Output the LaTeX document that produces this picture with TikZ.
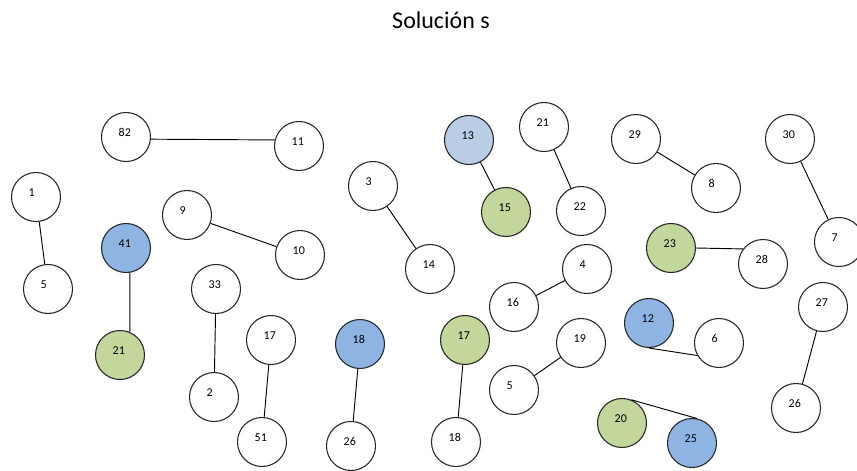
\documentclass[tikz,border=0pt]{standalone}
\usepackage{fontspec}
\setmainfont{Carlito}
\usetikzlibrary{positioning}
\definecolor{bluefill}{HTML}{8EB4E3}
\definecolor{palefill}{HTML}{B9CDE5}
\definecolor{greenfill}{HTML}{C3D69B}
\definecolor{rim}{HTML}{262626}

\begin{document}
\begin{tikzpicture}[x=0.75pt,y=-0.75pt,
  vtx/.style={circle,draw=rim,line width=0.8pt,fill=white,minimum size=36.75pt,inner sep=0pt,
    font=\fontsize{9}{10}\selectfont,text width=11pt,align=left,text height=6pt,text depth=7.1pt},
  bluev/.style={fill=bluefill},
  palev/.style={fill=palefill},
  greenv/.style={fill=greenfill},
  edge/.style={draw=black,line width=0.7pt}]
  \useasboundingbox (0,0) rectangle (857,471);

  % title
  \node[font=\fontsize{18}{20}\selectfont] (title) at (441,20) {Solución s};

  % left part
  \node[vtx] (n82) at (126,137) {82};
  \node[vtx] (n11) at (299,146) {11};
  \node[vtx] (n1) at (36,197) {1};
  \node[vtx] (n5a) at (48,289) {5};
  \node[vtx,bluev] (n41) at (126,248) {41};
  \node[vtx,greenv] (n21a) at (120,355) {21};
  \node[vtx] (n9) at (187,215) {9};
  \node[vtx] (n10) at (300,255) {10};
  \node[vtx] (n33) at (216,289) {33};
  \node[vtx] (n2) at (214,397) {2};
  \node[vtx] (n17a) at (271,340) {17};
  \node[vtx] (n51) at (262,442) {51};
  \node[vtx,bluev] (n18a) at (360,344) {18};
  \node[vtx] (n26a) at (351,446) {26};
  \node[vtx] (n3) at (373,186) {3};
  \node[vtx] (n14) at (430,269) {14};

  % middle part
  \node[vtx,palev] (n13) at (469,140) {13};
  \node[vtx,greenv] (n15) at (506,212) {15};
  \node[vtx] (n21b) at (544,127) {21};
  \node[vtx] (n22) at (581,211) {22};
  \node[vtx] (n4) at (587,269) {4};
  \node[vtx] (n16) at (514,307) {16};
  \node[vtx,greenv] (n17b) at (465,340) {17};
  \node[vtx] (n18b) at (456,442) {18};
  \node[vtx] (n19) at (581,343) {19};
  \node[vtx] (n5b) at (514,390) {5};

  % right part
  \node[vtx] (n29) at (636,139) {29};
  \node[vtx] (n8) at (716,188) {8};
  \node[vtx] (n30) at (790,139) {30};
  \node[vtx] (n7) at (839,242) {7};
  \node[vtx,greenv] (n23) at (671,248) {23};
  \node[vtx] (n28) at (763,264) {28};
  \node[vtx,bluev] (n12) at (649,323) {12};
  \node[vtx] (n6) at (719,343) {6};
  \node[vtx] (n27) at (823,307) {27};
  \node[vtx] (n26b) at (796,408) {26};
  \node[vtx,greenv] (n20) at (622,423) {20};
  \node[vtx,bluev] (n25) at (692,443) {25};

  % pairs
  \draw[edge] (n82.-5) -- (n11.166);
  \draw[edge] (n1) -- (n5a);
  \draw[edge] (n41.-81) -- (n21a.67);
  \draw[edge] (n9) -- (n10);
  \draw[edge] (n33) -- (n2);
  \draw[edge] (n17a) -- (n51);
  \draw[edge] (n18a) -- (n26a);
  \draw[edge] (n3) -- (n14);
  \draw[edge] (n13) -- (n15);
  \draw[edge] (n21b) -- (n22);
  \draw[edge] (n4) -- (n16);
  \draw[edge] (n17b) -- (n18b);
  \draw[edge] (n19) -- (n5b);
  \draw[edge] (n29) -- (n8);
  \draw[edge] (n30) -- (n7);
  \draw[edge] (n23.east) -- (n28.143);
  \draw[edge] (n12.south) -- (n6.210);
  \draw[edge] (n27) -- (n26b);
  \draw[edge] (n20.68) -- (n25.78);
\end{tikzpicture}
\end{document}
